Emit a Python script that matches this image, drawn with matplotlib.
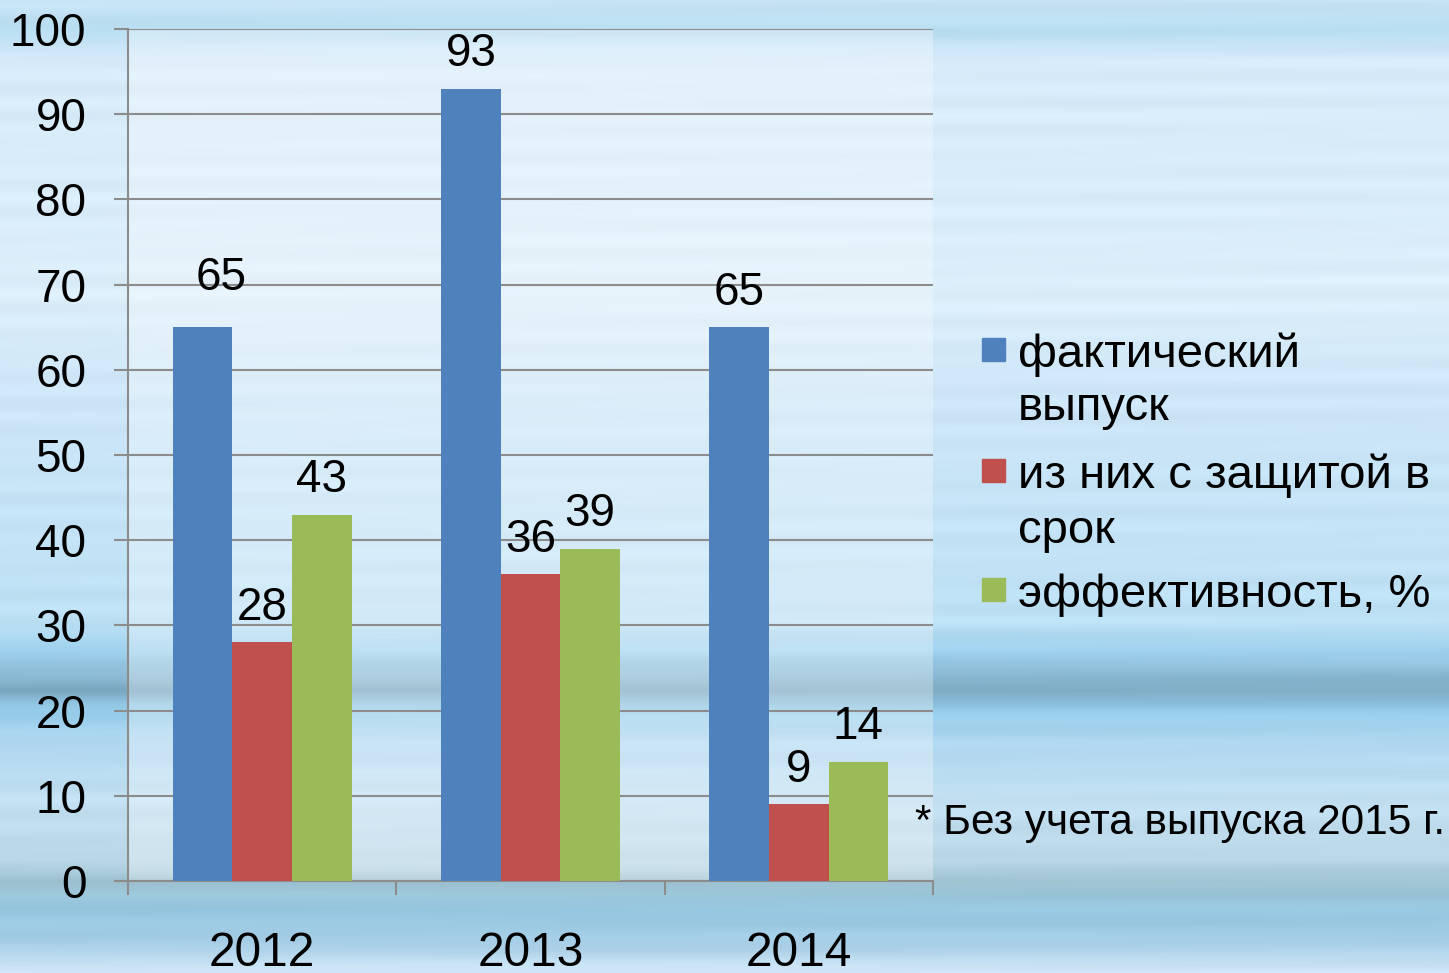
import numpy as np
import matplotlib.pyplot as plt
from matplotlib.patches import Rectangle

plt.rcParams['font.family'] = ['Liberation Sans', 'DejaVu Sans']

# данные
years = ['2012', '2013', '2014']
fact = [65, 93, 65]          # фактический выпуск
on_time = [28, 36, 9]        # из них с защитой в срок
effect = [43, 39, 14]        # эффективность, %
series_names = [['фактический', 'выпуск'], ['из них с защитой в', 'срок'], ['эффективность, %']]
colors = ['#4F81BD', '#C0504D', '#9BBB59']
note = '* Без учета выпуска 2015 г.'

W, H = 1449, 973
fig = plt.figure(figsize=(W / 100, H / 100), dpi=100)

# фон "вода" - градиент с полосами
rows = np.array([0, 30, 60, 300, 400, 620, 650, 690, 710, 740, 800, 860, 880, 910, 940, 973])
cols = np.array([
    (200, 228, 245), (185, 222, 242), (215, 235, 250), (220, 238, 250),
    (205, 230, 248), (190, 225, 245), (160, 210, 238), (125, 170, 195),
    (150, 205, 235), (175, 215, 240), (195, 225, 242), (185, 215, 230),
    (160, 195, 210), (150, 200, 225), (165, 205, 230), (210, 232, 248)]) / 255.0
yy = np.arange(H)
prof = np.stack([np.interp(yy, rows, cols[:, k]) for k in range(3)], axis=1)
xx = np.linspace(0, 1, W)
streak = 0.015 * np.sin(yy[:, None] * 0.23) * np.cos(xx[None, :] * 4 + yy[:, None] * 0.031)
bg = np.clip(prof[:, None, :] + streak[:, :, None], 0, 1)
ax_bg = fig.add_axes([0, 0, 1, 1], zorder=-1)
ax_bg.imshow(bg, aspect='auto', extent=[0, 1, 0, 1])
ax_bg.axis('off')

ax = fig.add_axes([128 / W, 92 / H, 805 / W, 852 / H])
ax.set_facecolor((1, 1, 1, 0.3))
ax.set_xlim(-0.5, 2.5)
ax.set_ylim(0, 100)

x = np.arange(len(years))
w = 0.222
nudge = {(0, 0): (13, 11)}   # подпись 65 над 2012 сдвинута
for i, vals in enumerate([fact, on_time, effect]):
    bars = ax.bar(x + (i - 1) * w, vals, w, color=colors[i], zorder=3)
    for j, (b, v) in enumerate(zip(bars, vals)):
        dx, dy = nudge.get((i, j), (0, 0))
        ax.annotate(str(v), (b.get_x() + b.get_width() / 2, v),
                    xytext=(dx, 16 + dy), textcoords='offset points',
                    ha='center', va='baseline', fontsize=33)

grey = '#8c8c8c'
ax.set_axisbelow(True)
ax.yaxis.grid(True, color=grey, lw=1.5)
for s in ['top', 'right']:
    ax.spines[s].set_visible(False)
for s in ['left', 'bottom']:
    ax.spines[s].set_color(grey)
    ax.spines[s].set_linewidth(1.5)

ax.set_yticks(range(0, 101, 10))
ax.tick_params(axis='y', length=10, width=1.5, color=grey, labelsize=33, pad=20)
ax.set_xticks([-0.5, 0.5, 1.5, 2.5])
ax.set_xticklabels([])
ax.set_xticks(x, minor=True)
ax.set_xticklabels(years, minor=True)
ax.tick_params(axis='x', which='major', length=10, width=1.5, color=grey)
ax.tick_params(axis='x', which='minor', length=0, labelsize=34.5, pad=36)

# легенда справа
leg_y = [[367, 420], [488, 543], [607]]
for c, lines, ys in zip(colors, series_names, leg_y):
    fig.patches.append(Rectangle((982 / W, 1 - (ys[0] - 6) / H), 23 / W, 23 / H,
                                 transform=fig.transFigure, color=c))
    for line, yb in zip(lines, ys):
        fig.text(1018 / W, 1 - yb / H, line, fontsize=34, va='baseline', ha='left')

fig.text(915 / W, 1 - 834 / H, note, fontsize=30.5, va='baseline', ha='left')

fig.savefig('out.png', dpi=100)
